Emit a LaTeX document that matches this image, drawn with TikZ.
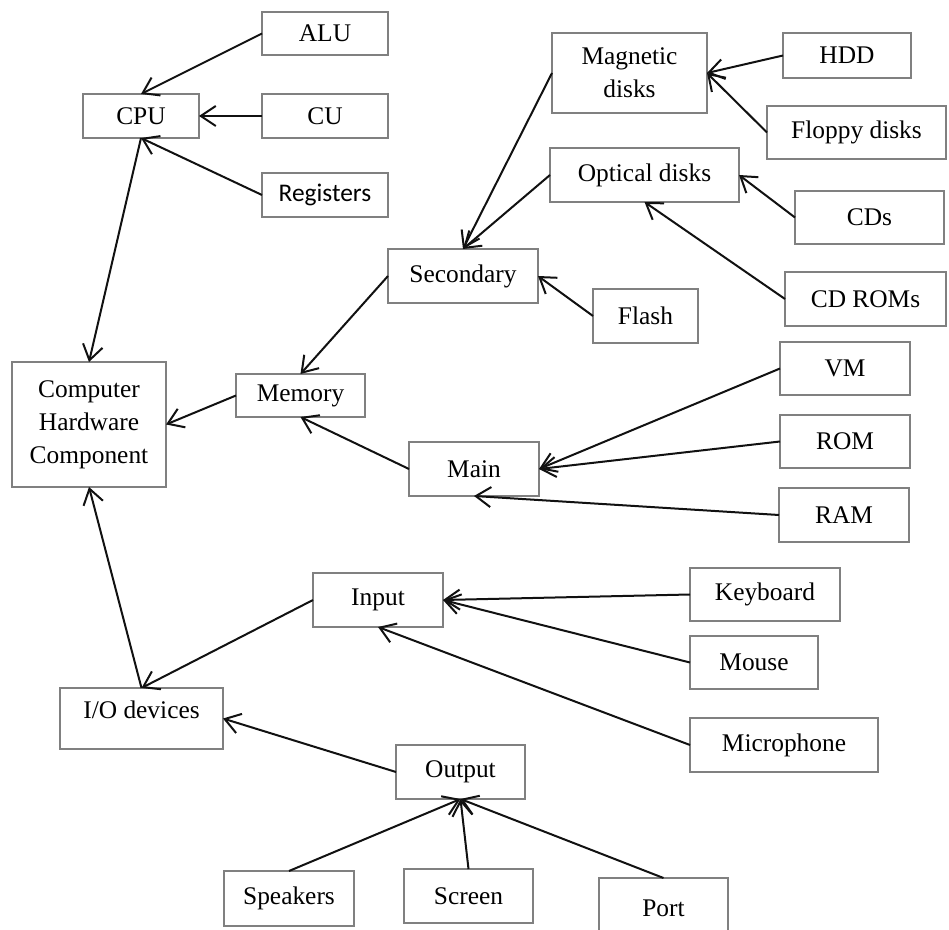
\documentclass[tikz,border=0pt]{standalone}
\usepackage{fontspec}
\setmainfont{Liberation Serif}
\newfontfamily\regfont{Carlito}
\usepackage{xcolor}
\usetikzlibrary{arrows.meta}
\definecolor{rim}{HTML}{808080}
\definecolor{ink}{HTML}{111111}

\begin{document}
\begin{tikzpicture}[x=0.5pt, y=-0.5pt, font=\fontsize{12.7}{16.5}\selectfont,
  >={Straight Barb[length=7.5pt, width=10pt]},
  bx/.style={draw=rim, line width=0.6pt, align=center, inner sep=1pt, outer sep=0pt},
  m/.style={->, line width=1pt, draw=ink}]
\useasboundingbox (0,0) rectangle (949,930);
% boxes: name / centre x / centre y / width / height / text
\foreach \n/\cx/\cy/\w/\h/\t in {
  alu/325/33.5/126/43/ALU, cpu/141/116/116/44/CPU, cu/325/116/126/44/CU,
  reg/325/195/126/44/{\regfont Registers},
  mag/629.5/73/155/80/{Magnetic\\disks}, hdd/847/55.5/128/45/HDD,
  flop/856.5/132.5/179/53/Floppy disks, opt/644.5/175/189/54/Optical disks,
  cds/869.5/217.5/149/53/CDs, cdrom/865.5/299/161/54/CD ROMs,
  sec/463/276/150/54/Secondary, flash/645.5/316/105/54/Flash,
  chc/89/424.5/154/125/{Computer\\Hardware\\Component},
  mem/300.5/395.5/129/43/Memory, main/474/469/130/54/Main,
  vm/845/368.5/130/53/VM, rom/845/441.5/130/53/ROM, ram/844/515/130/54/RAM,
  inp/378/600/130/54/Input, kbd/765/594.5/150/53/Keyboard,
  mouse/754/662.5/128/53/Mouse, mic/784/745/188/54/Microphone,
  out/460.5/772/129/54/Output,
  spk/289/898.5/130/55/Speakers, scr/468.5/896/129/54/Screen, port/663.5/908/129/60/Port} {
  \node[bx, minimum width=\w*0.5pt, minimum height=\h*0.5pt] (\n) at (\cx,\cy) {\t};
}
\node[bx, minimum width=81.5pt, minimum height=30.5pt, text depth=9pt] (io) at (141.5,718.5) {I/O devices};
% connectors
\foreach \a/\b in {alu.west/cpu.north, cu.west/cpu.east, reg.west/cpu.south, cpu.south/chc.north,
  hdd.west/mag.east, flop.west/mag.east, mag.west/sec.north, opt.west/sec.north,
  cds.west/opt.east, cdrom.west/opt.south, flash.west/sec.east, sec.west/mem.north,
  mem.west/chc.east, main.west/mem.south, vm.west/main.east, rom.west/main.east,
  ram.west/main.south, io.north/chc.south, inp.west/io.north, kbd.west/inp.east,
  mouse.west/inp.east, mic.west/inp.south, out.west/io.east,
  spk.north/out.south, scr.north/out.south, port.north/out.south}
  \draw[m] (\a) -- (\b);
\end{tikzpicture}
\end{document}
